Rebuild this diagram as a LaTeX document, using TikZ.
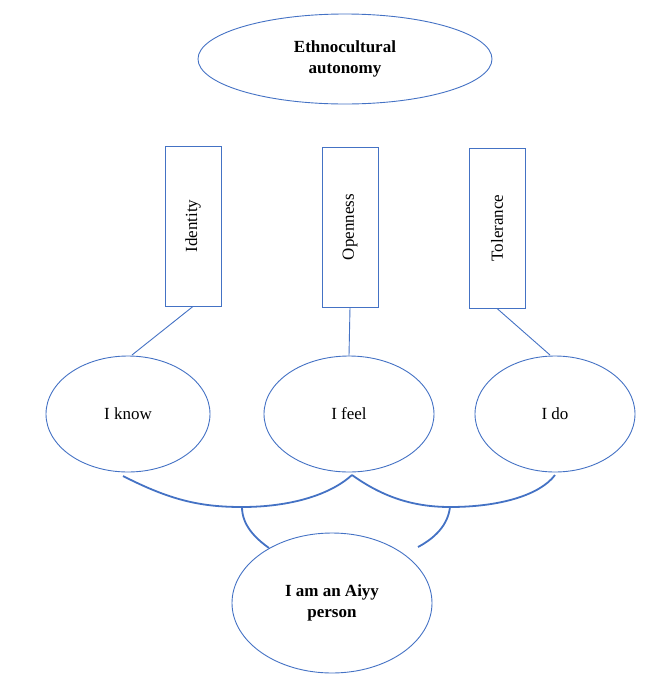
\documentclass[tikz,border=0pt]{standalone}
\usepackage{fontspec}
\setmainfont{Liberation Serif}
\usetikzlibrary{shapes.geometric}
\definecolor{lineblue}{RGB}{68,114,196}
\tikzset{
  oval/.style={ellipse, draw=lineblue, line width=0.9pt, align=center, font=\fontsize{17}{21}\selectfont},
  bar/.style={rectangle, draw=lineblue, line width=0.9pt, minimum width=56pt, minimum height=160pt, inner sep=0pt},
  bartext/.style={rotate=90, font=\fontsize{17}{21}\selectfont},
  link/.style={draw=lineblue, line width=0.9pt},
  brace/.style={draw=lineblue, line width=1.8pt}
}
\begin{document}
\begin{tikzpicture}[x=1pt,y=-1pt]
\useasboundingbox (0,0) rectangle (670,683);

\node[oval, minimum width=294pt, minimum height=90pt] (auto) at (345,59) {\textbf{Ethnocultural}\\\textbf{autonomy}};

\node[bar] (identity) at (193,226) {};
\node[bartext] at (identity) {Identity};
\node[bar] (openness) at (350,227) {};
\node[bartext] at (openness) {Openness};
\node[bar] (tolerance) at (497,228) {};
\node[bartext] at (tolerance) {Tolerance};

\node[oval, minimum width=164pt, minimum height=116pt] (know) at (128,414) {I know};
\node[oval, minimum width=170pt, minimum height=116pt] (feel) at (349,414) {I feel};
\node[oval, minimum width=160pt, minimum height=116pt] (do) at (555,414) {I do};
\node[oval, minimum width=200pt, minimum height=140pt] (aiyy) at (332,603) {\textbf{I am an Aiyy}\\\textbf{person}};

% stems
\coordinate (kt) at (132,355);
\coordinate (dt) at (550,355);
\draw[link] (identity.south) -- (kt);
\draw[link] (openness.south) -- (feel.north);
\draw[link] (tolerance.south) -- (dt);

% braces
\coordinate (bl) at (123,476);
\coordinate (bm) at (352,475);
\coordinate (br) at (555,475);
\coordinate (dl) at (242,507);
\coordinate (dr) at (450,507);
\coordinate (al) at (269,548);
\coordinate (ar) at (418,547);
\draw[brace] (bl) .. controls (170,500) and (200,507) .. (dl) .. controls (290,507) and (330,495) .. (bm);
\draw[brace] (bm) .. controls (380,495) and (410,507) .. (dr) .. controls (500,507) and (540,495) .. (br);
\draw[brace] (dl) .. controls (242,525) and (255,538) .. (al);
\draw[brace] (dr) .. controls (448,525) and (435,538) .. (ar);
\end{tikzpicture}
\end{document}
